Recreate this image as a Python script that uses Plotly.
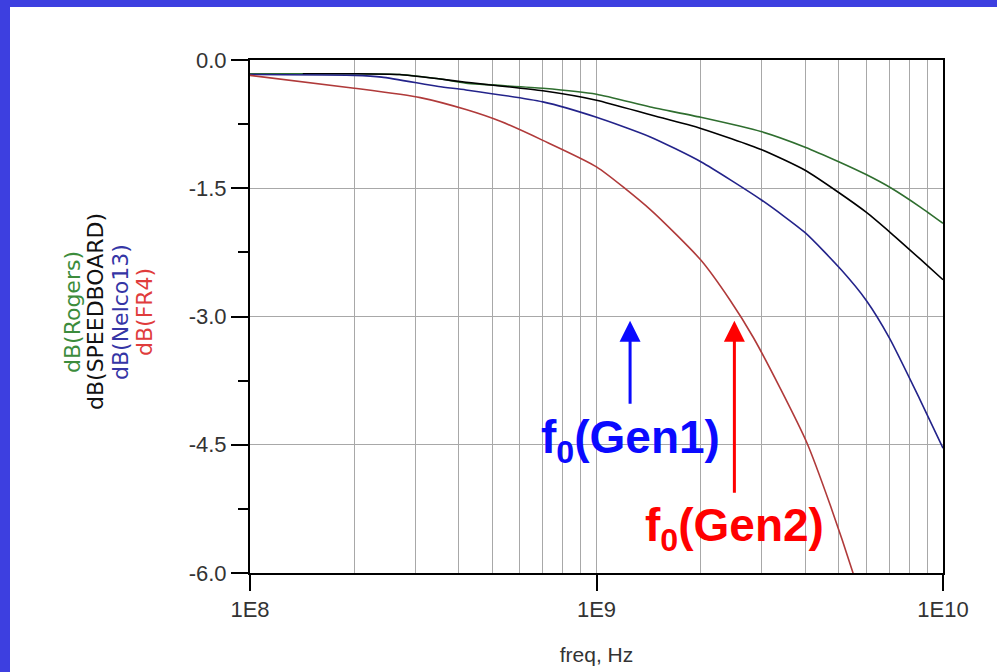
import numpy as np
import plotly.graph_objects as go

# ---------------- data ----------------
freq_rogers = [1e8, 2e8, 2.7e8, 3.5e8, 4.2e8, 7e8, 1e9, 1.43e9, 2e9, 3e9, 4e9, 5e9, 6e9, 7.1e9, 8.6e9, 1e10]
db_rogers   = [-0.16, -0.16, -0.17, -0.22, -0.27, -0.33, -0.40, -0.55, -0.67, -0.84, -1.02, -1.19, -1.34, -1.50, -1.72, -1.91]

freq_speed = [1.42e8, 2e8, 2.7e8, 3.5e8, 4.2e8, 7e8, 1e9, 1.43e9, 2e9, 3e9, 4e9, 5e9, 6e9, 7.1e9, 8.6e9, 1e10]
db_speed   = [-0.16, -0.16, -0.17, -0.22, -0.26, -0.36, -0.47, -0.64, -0.80, -1.05, -1.29, -1.55, -1.78, -2.03, -2.33, -2.57]

freq_nelco = [1e8, 2e8, 2.4e8, 3.5e8, 4.2e8, 7e8, 1e9, 1.43e9, 2e9, 3e9, 4e9, 5.1e9, 6e9, 7e9, 8.6e9, 1e10]
db_nelco   = [-0.17, -0.18, -0.20, -0.31, -0.35, -0.49, -0.67, -0.90, -1.19, -1.64, -2.02, -2.46, -2.81, -3.25, -3.98, -4.54]

freq_fr4 = [1e8, 2e8, 3.1e8, 4.2e8, 5.3e8, 7e8, 1e9, 1.43e9, 2e9, 2.43e9, 2.83e9, 3.4e9, 4.05e9, 4.72e9, 5.5e9, 6.2e9]
db_fr4   = [-0.18, -0.33, -0.44, -0.58, -0.72, -0.94, -1.25, -1.75, -2.34, -2.81, -3.24, -3.85, -4.48, -5.20, -6.00, -6.70]

series_names = ["dB(Rogers)", "dB(SPEEDBOARD)", "dB(Nelco13)", "dB(FR4)"]

y_tickvals = [0.0, -1.5, -3.0, -4.5, -6.0]
y_ticktext = ["0.0", "-1.5", "-3.0", "-4.5", "-6.0"]
x_tickvals = [1e8, 1e9, 1e10]
x_ticktext = ["1E8", "1E9", "1E10"]
x_minorvals = [m * 10 ** e for e in (8, 9) for m in range(2, 10)]

f0_gen1 = 1.25e9
f0_gen2 = 2.5e9
f0_level = -3.05

# ---------------- styling ----------------
line_colors = ["#2f6e2f", "#000000", "#23238a", "#b03a3a"]
label_colors = ["#3c8c3c", "#111111", "#3535a5", "#e03c3c"]

W, H = 997, 672
ML, MR, MT, MB = 250, 54, 60, 99
PW, PH = W - ML - MR, H - MT - MB

def px_x(px):
    return (px - ML) / PW

def px_y(py):
    return (H - MB - py) / PH

fig = go.Figure()
for fx, fy, name, col in zip(
    [freq_rogers, freq_speed, freq_nelco, freq_fr4],
    [db_rogers, db_speed, db_nelco, db_fr4],
    series_names, line_colors):
    fig.add_trace(go.Scatter(x=fx, y=fy, mode="lines", name=name,
                             line=dict(color=col, width=1.6, shape="spline", smoothing=0.6),
                             showlegend=False))

tick_font = dict(family="Liberation Sans, Arial, sans-serif", size=22, color="#333333")

fig.update_layout(
    width=W, height=H,
    margin=dict(l=ML, r=MR, t=MT, b=MB),
    paper_bgcolor="#3d3fe0",
    plot_bgcolor="#ffffff",
    xaxis=dict(
        type="log", range=[8, 10], automargin=False,
        tickmode="array", tickvals=x_tickvals, ticktext=x_ticktext,
        ticks="outside", ticklen=16, tickwidth=1.5, tickcolor="#000",
        showline=True, linecolor="#000", linewidth=2, mirror=True,
        showgrid=True, gridcolor="#a8a8a8", gridwidth=1,
        minor=dict(tickmode="array", tickvals=x_minorvals, showgrid=True,
                   gridcolor="#a8a8a8", gridwidth=1, ticks=""),
        tickfont=tick_font,
        title=dict(text="freq, Hz", font=dict(family="Liberation Sans, Arial, sans-serif", size=21, color="#333333"), standoff=26),
        zeroline=False,
    ),
    yaxis=dict(
        range=[-6, 0], automargin=False,
        tickmode="array", tickvals=y_tickvals, ticktext=y_ticktext,
        ticks="outside", ticklen=17, tickwidth=1.5, tickcolor="#000",
        showline=True, linecolor="#000", linewidth=2, mirror=True,
        showgrid=True, gridcolor="#a8a8a8", gridwidth=1,
        minor=dict(tickmode="linear", tick0=0, dtick=0.75, ticks="outside",
                   ticklen=10, tickwidth=1.5, tickcolor="#000", showgrid=False),
        tickfont=tick_font,
        zeroline=False,
    ),
    shapes=[
        dict(type="rect", xref="paper", yref="paper", layer="below",
             x0=px_x(10), x1=px_x(W + 5), y0=px_y(7), y1=px_y(H + 5),
             fillcolor="#ffffff", line=dict(width=0)),
    ],
)

# rotated series labels (left)
label_x = [72, 95, 120, 144]
for name, col, lx in zip(series_names, label_colors, label_x):
    fig.add_annotation(text=name, xref="paper", yref="paper",
                       x=px_x(lx), y=px_y(312), showarrow=False, textangle=-90,
                       xanchor="center", yanchor="middle",
                       font=dict(family="DejaVu Sans, sans-serif", size=22, color=col))

# f0 labels with arrows pointing up to the -3 dB level
for f0, col, txt, tail, sso in [
    (f0_gen1, "#0a0aff", "<b>f<sub>0</sub>(Gen1)</b>", 120, 6),
    (f0_gen2, "#ff0000", "<b>f<sub>0</sub>(Gen2)</b>", 208, 5),
]:
    fig.add_annotation(x=np.log10(f0), y=f0_level, xref="x", yref="y", text=txt,
                       showarrow=True, ax=0, ay=tail, arrowcolor=col, arrowwidth=3,
                       arrowhead=2, arrowsize=1.4, standoff=0, startstandoff=sso,
                       font=dict(family="Liberation Sans, Arial, sans-serif", size=46, color=col))

fig.write_html("out.html")
